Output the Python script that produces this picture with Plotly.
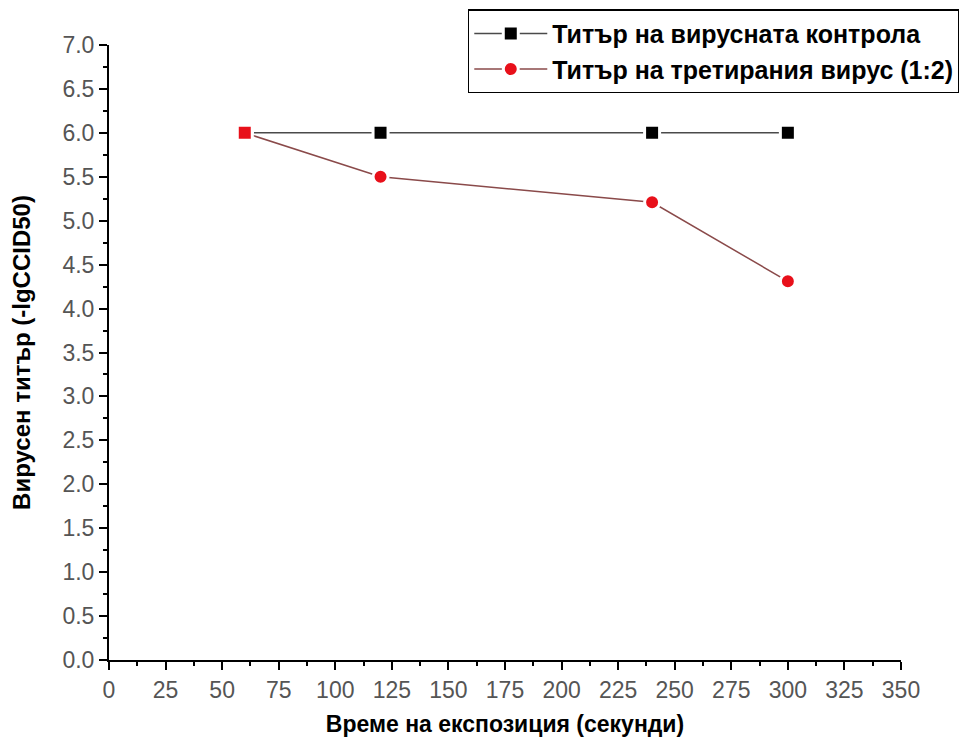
import plotly.graph_objects as go

time_s = [60, 120, 240, 300]
control_titer = [6.0, 6.0, 6.0, 6.0]
treated_titer = [6.0, 5.5, 5.21, 4.31]

name_control = "Титър на вирусната контрола"
name_treated = "Титър на третирания вирус (1:2)"

FONT = "Liberation Sans, Arial"

fig = go.Figure()
fig.add_trace(go.Scatter(
    x=time_s, y=control_titer, mode="lines+markers", name=name_control,
    line=dict(color="#4a4a4a", width=1.5),
    marker=dict(symbol="square", size=15, color="black", line=dict(color="white", width=3)),
))
fig.add_trace(go.Scatter(
    x=time_s, y=treated_titer, mode="lines+markers", name=name_treated,
    line=dict(color="#8a4a4a", width=1.5),
    marker=dict(symbol="circle", size=15, color="#e8101a", line=dict(color="white", width=3)),
))
# first treated point drawn as a red square over the control marker
fig.add_trace(go.Scatter(
    x=time_s[:1], y=treated_titer[:1], mode="markers", showlegend=False,
    marker=dict(symbol="square", size=15, color="#e8101a", line=dict(color="white", width=3)),
))

axis_common = dict(
    showline=True, linecolor="black", linewidth=2,
    ticks="outside", ticklen=8, tickwidth=2, tickcolor="black",
    showgrid=False, zeroline=False, mirror=False,
    tickfont=dict(family=FONT, size=23, color="#555555"),
)

fig.update_xaxes(
    range=[0, 350], dtick=25, tick0=0,
    minor=dict(ticks="outside", ticklen=4, tickwidth=2, tickcolor="black", dtick=12.5),
    title=dict(text="<b>Време на експозиция (секунди)</b>", standoff=14,
               font=dict(family=FONT, size=23, color="black")),
    **axis_common,
)
fig.update_yaxes(
    range=[0, 7], dtick=0.5, tick0=0, tickformat=".1f",
    minor=dict(ticks="outside", ticklen=4, tickwidth=2, tickcolor="black", dtick=0.25),
    title=dict(text="<b>Вирусен титър (-lgCCID50)</b>", standoff=29,
               font=dict(family=FONT, size=24, color="black")),
    **axis_common,
)

fig.update_layout(
    width=967, height=742,
    margin=dict(l=101, r=74, t=37, b=90, autoexpand=False),
    plot_bgcolor="white", paper_bgcolor="white",
    legend=dict(
        x=0.453, y=1.058, xanchor="left", yanchor="top",
        bordercolor="black", borderwidth=1.5, bgcolor="white",
        font=dict(family=FONT, size=25, color="black", weight="bold"),
        itemwidth=73, tracegroupgap=0,
    ),
)

fig.write_html("out.html")
